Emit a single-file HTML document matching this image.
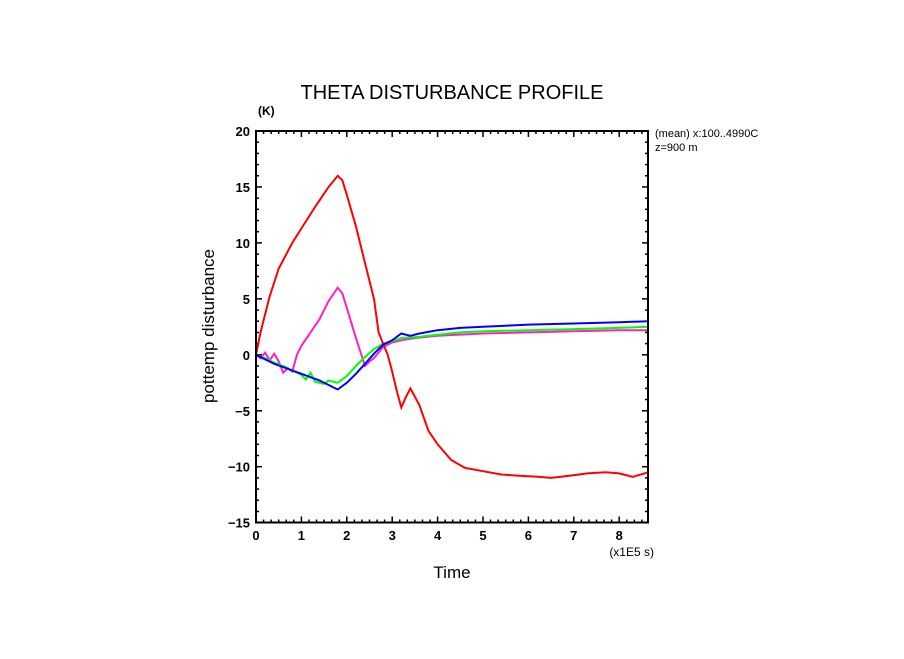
<!DOCTYPE html>
<html><head><meta charset="utf-8"><style>
body{margin:0;background:#fff;}
svg text{font-family:"Liberation Sans",sans-serif;fill:#000;}
</style></head><body>
<svg id="chart" width="904" height="654" xmlns="http://www.w3.org/2000/svg">
<text x="452" y="99" font-size="20" text-anchor="middle">THETA DISTURBANCE PROFILE</text>
<text x="258" y="115" font-size="12" font-weight="bold">(K)</text>
<text x="655" y="137" font-size="11">(mean) x:100..4990C</text>
<text x="655" y="151" font-size="11">z=900 m</text>
<text x="214" y="326" font-size="17" text-anchor="middle" transform="rotate(-90 214 326)">pottemp disturbance</text>
<text x="452" y="578" font-size="17" text-anchor="middle">Time</text>
<text x="654" y="556" font-size="12" text-anchor="end">(x1E5 s)</text>
<g id="ticks"></g>
<g id="series"></g>
<rect x="256" y="131" width="392" height="391.5" fill="none" stroke="#000" stroke-width="2"/>
</svg>
<script>
const xTicks=[0,1,2,3,4,5,6,7,8];
const yTicks=[20,15,10,5,0,-5,-10,-15];
const tRed=[0,0.1,0.3,0.5,0.8,1.0,1.3,1.6,1.8,1.9,2.0,2.2,2.4,2.6,2.7,2.8,2.9,3.0,3.1,3.2,3.3,3.4,3.6,3.8,4.0,4.3,4.6,5.0,5.4,5.8,6.2,6.5,6.9,7.3,7.7,8.0,8.3,8.64];
const vRed=[0,2,5.2,7.7,10,11.3,13.2,15,16,15.6,14.3,11.5,8.2,5,2,1,0,-1.5,-3.2,-4.7,-3.8,-3,-4.5,-6.8,-8,-9.4,-10.1,-10.4,-10.7,-10.8,-10.9,-11,-10.8,-10.6,-10.5,-10.6,-10.9,-10.5];
const tMag=[0,0.1,0.2,0.3,0.4,0.5,0.6,0.7,0.8,0.9,1.0,1.2,1.4,1.6,1.8,1.9,2.0,2.2,2.4,2.5,2.6,2.8,3.0,3.2,3.5,4.0,5.0,6.0,7.0,8.0,8.64];
const vMag=[0,-0.3,0.2,-0.5,0.1,-0.6,-1.6,-1.2,-1.5,0,0.8,2,3.2,4.8,6,5.5,4.2,1.5,-1,-0.6,-0.3,0.7,1.1,1.3,1.5,1.7,1.9,2,2.1,2.2,2.2];
const tGrn=[0,0.2,0.4,0.6,0.8,1.0,1.1,1.2,1.3,1.4,1.5,1.6,1.8,2.0,2.2,2.4,2.6,2.8,3.0,3.2,3.6,4.0,4.5,5.0,6.0,7.0,8.0,8.64];
const vGrn=[0,-0.3,-0.7,-1,-1.4,-1.8,-2.2,-1.6,-2.4,-2.5,-2.6,-2.3,-2.5,-1.9,-1,-0.2,0.5,1,1.2,1.5,1.6,1.8,2,2.1,2.2,2.3,2.4,2.5];
const tBlu=[0,0.2,0.4,0.6,0.8,1.0,1.2,1.4,1.6,1.8,2.0,2.2,2.4,2.6,2.8,3.0,3.2,3.4,3.6,4.0,4.5,5.0,5.5,6.0,7.0,8.0,8.64];
const vBlu=[0,-0.4,-0.8,-1.1,-1.4,-1.7,-2,-2.3,-2.7,-3.1,-2.5,-1.7,-0.8,0.1,0.9,1.3,1.9,1.7,1.9,2.2,2.4,2.5,2.6,2.7,2.8,2.9,3.0];
const X=v=>256+v*45.4, Y=v=>354.8-v*11.19;
const ns="http://www.w3.org/2000/svg";
const tg=document.getElementById('ticks'), sg=document.getElementById('series');
function line(x1,y1,x2,y2){const l=document.createElementNS(ns,'line');l.setAttribute('x1',x1);l.setAttribute('y1',y1);l.setAttribute('x2',x2);l.setAttribute('y2',y2);l.setAttribute('stroke','#000');l.setAttribute('stroke-width','1.5');tg.appendChild(l);return l;}
function txt(x,y,s,a){const t=document.createElementNS(ns,'text');t.setAttribute('x',x);t.setAttribute('y',y);t.setAttribute('font-size','13');t.setAttribute('font-weight','bold');t.setAttribute('text-anchor',a);t.textContent=s;tg.appendChild(t);return t;}
for(let i=0;i<=51;i++){const v=i/6;if(v>8.64)break;const x=X(v);const L=i%6==0?6:3;
 const a=line(x,522.5,x,522.5-L);
 const b=line(x,131,x,131+L);}
xTicks.forEach(v=>{const t=txt(X(v),540,String(v),'middle');});
for(let v=-15;v<=20;v++){const y=Y(v);const L=v%5==0?6:3;
 const a=line(256,y,256+L,y);
 const b=line(648,y,648-L,y);}
yTicks.forEach(v=>{const t=txt(250,Y(v)+5,v<0?'\u2212'+(-v):String(v),'end');});
function series(ts,vs,c,name){const p=document.createElementNS(ns,'path');
 p.setAttribute('d',ts.map((t,i)=>(i?'L':'M')+X(t).toFixed(1)+' '+Y(vs[i]).toFixed(1)).join(''));
 p.setAttribute('fill','none');p.setAttribute('stroke',c);p.setAttribute('stroke-width','2');
 
 
 sg.appendChild(p);}
series(tMag,vMag,'#ff1fc8','series-magenta');
series(tGrn,vGrn,'#00ff00','series-green');
series(tRed,vRed,'#ff0000','series-red');
series(tBlu,vBlu,'#0000ff','series-blue');
</script>
</body></html>
